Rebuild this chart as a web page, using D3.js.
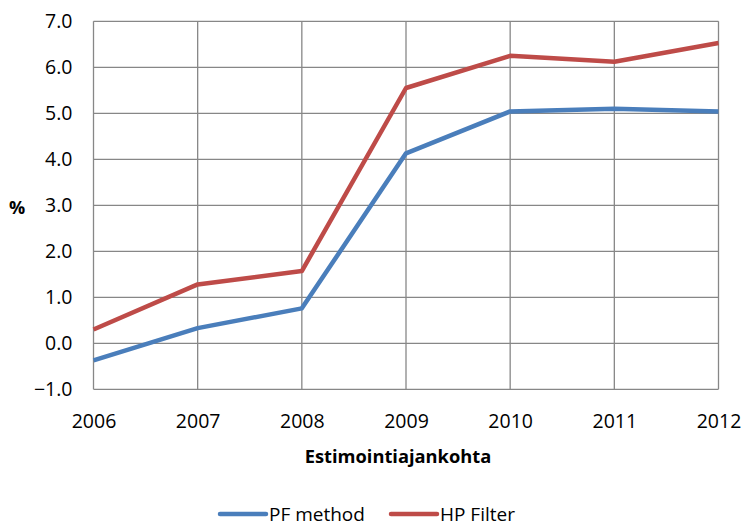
<!DOCTYPE html>
<html><head><meta charset="utf-8">
<script src="https://cdn.jsdelivr.net/npm/d3@7"></script>
<style>body{margin:0;background:#fff}svg{display:block}text{font-family:"Open Sans",sans-serif;fill:#000}</style>
</head><body><svg id="c" width="743" height="527"></svg>
<script>
const years = [2006, 2007, 2008, 2009, 2010, 2011, 2012];
const pfMethod = [-0.37, 0.33, 0.76, 4.13, 5.04, 5.10, 5.04];
const hpFilter = [0.30, 1.28, 1.57, 5.55, 6.25, 6.12, 6.53];
const yTicks = [-1, 0, 1, 2, 3, 4, 5, 6, 7];
const seriesNames = ["PF method", "HP Filter"];
const colors = ["#4a7ebb", "#be4b48"];

const svg = d3.select("#c");
const L = 93.5, R = 718.5, T = 21.3, B = 389.3;
const x = d3.scaleLinear().domain([2006, 2012]).range([L, R]);
const y = d3.scaleLinear().domain([-1, 7]).range([B, T]);

const g = svg.append("g");
g.selectAll(".hg").data(yTicks).join("line")
  .attr("x1", L).attr("x2", R).attr("y1", d => y(d)).attr("y2", d => y(d))
  .attr("stroke", "#878787").attr("stroke-width", 1.3);
g.selectAll(".vg").data(years).join("line")
  .attr("y1", T).attr("y2", B).attr("x1", d => x(d)).attr("x2", d => x(d))
  .attr("stroke", "#878787").attr("stroke-width", 1.3);

const yAxis = d3.axisLeft(y).tickValues(yTicks).tickFormat(d3.format(".1f")).tickSize(0).tickPadding(21);
const ya = svg.append("g").attr("transform", `translate(${L},0)`).call(yAxis);
ya.select(".domain").remove();
ya.selectAll("text").style("font-size", "19.5px").style("font-family", '"Open Sans",sans-serif').attr("fill", "#000");

const xAxis = d3.axisBottom(x).tickValues(years).tickFormat(d3.format("d")).tickSize(0).tickPadding(0);
const xa = svg.append("g").attr("transform", `translate(0,${B})`).call(xAxis);
xa.select(".domain").remove();
xa.selectAll("text").attr("dy", null).attr("y", 31).attr("dominant-baseline", "central")
  .style("font-size", "19.5px").style("font-family", '"Open Sans",sans-serif').attr("fill", "#000");

svg.append("text").attr("x", 17).attr("y", 207).attr("text-anchor", "middle").attr("dominant-baseline", "central")
  .style("font-size", "18px").style("font-weight", "bold").text("%");
svg.append("text").attr("x", 398).attr("y", 455).attr("text-anchor", "middle").attr("dominant-baseline", "central")
  .style("font-size", "18.3px").style("font-weight", "bold").text("Estimointiajankohta");

const line = d3.line().x((d, i) => x(years[i])).y(d => y(d));
[pfMethod, hpFilter].forEach((s, k) => {
  svg.append("path").attr("d", line(s)).attr("fill", "none").attr("stroke", colors[k])
    .attr("stroke-width", 4.5).attr("stroke-linejoin", "round");
});

const legX = [220, 391];
seriesNames.forEach((n, k) => {
  const lg = svg.append("g").attr("transform", `translate(${legX[k]},514)`);
  lg.append("line").attr("x1", 0).attr("x2", 46).attr("stroke", colors[k]).attr("stroke-width", 4.5).attr("stroke-linecap", "round");
  lg.append("text").attr("x", 49).attr("y", 0).attr("dominant-baseline", "central").style("font-size", "19px").text(n);
});
</script></body></html>
